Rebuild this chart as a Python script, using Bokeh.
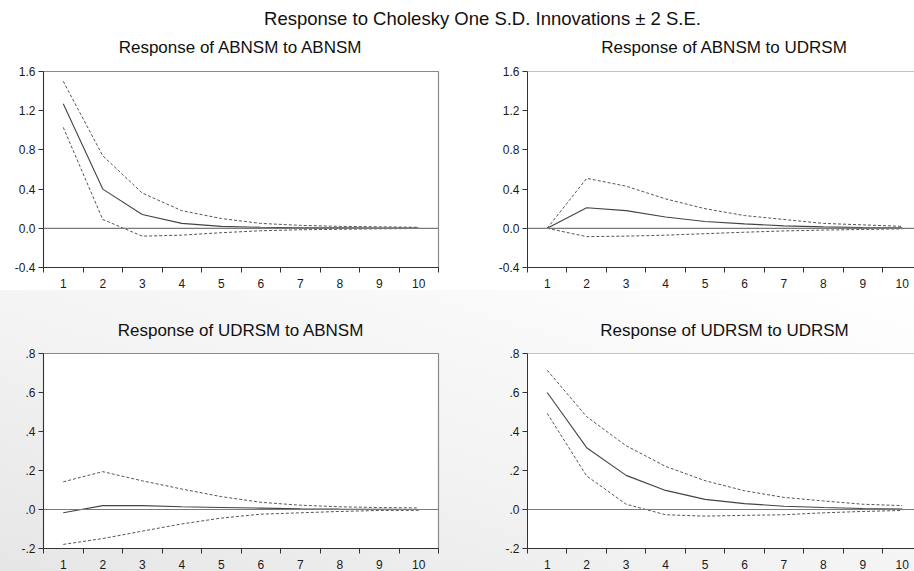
from bokeh.plotting import figure
from bokeh.layouts import column, row
from bokeh.models import Span, FixedTicker, Range1d, CustomJSTickFormatter
from bokeh.embed import file_html
from bokeh.resources import INLINE
from bokeh.core.properties import value

# ---------------- data ----------------
periods = [1, 2, 3, 4, 5, 6, 7, 8, 9, 10]

main_title = "Response to Cholesky One S.D. Innovations \u00b1 2 S.E."

titles = ["Response of ABNSM to ABNSM", "Response of ABNSM to UDRSM",
          "Response of UDRSM to ABNSM", "Response of UDRSM to UDRSM"]

# Response of ABNSM to ABNSM
abn_abn_resp = [1.27, 0.40, 0.14, 0.05, 0.02, 0.01, 0.006, 0.004, 0.003, 0.002]
abn_abn_upper = [1.50, 0.74, 0.36, 0.18, 0.10, 0.05, 0.03, 0.02, 0.015, 0.01]
abn_abn_lower = [1.03, 0.09, -0.08, -0.07, -0.045, -0.025, -0.015, -0.01, -0.005, -0.002]

# Response of ABNSM to UDRSM
abn_udr_resp = [0.0, 0.21, 0.18, 0.115, 0.07, 0.045, 0.025, 0.015, 0.008, 0.004]
abn_udr_upper = [0.0, 0.51, 0.43, 0.30, 0.20, 0.13, 0.09, 0.05, 0.035, 0.02]
abn_udr_lower = [0.0, -0.085, -0.08, -0.07, -0.055, -0.04, -0.027, -0.018, -0.012, -0.006]

# Response of UDRSM to ABNSM
udr_abn_resp = [-0.017, 0.02, 0.02, 0.014, 0.01, 0.007, 0.004, 0.002, 0.001, 0.0]
udr_abn_upper = [0.142, 0.194, 0.147, 0.105, 0.066, 0.037, 0.022, 0.014, 0.01, 0.008]
udr_abn_lower = [-0.179, -0.149, -0.111, -0.074, -0.044, -0.024, -0.017, -0.01, -0.005, -0.004]

# Response of UDRSM to UDRSM
udr_udr_resp = [0.60, 0.317, 0.175, 0.098, 0.052, 0.03, 0.017, 0.01, 0.005, 0.002]
udr_udr_upper = [0.714, 0.476, 0.327, 0.221, 0.148, 0.096, 0.062, 0.044, 0.027, 0.02]
udr_udr_lower = [0.493, 0.172, 0.027, -0.027, -0.034, -0.03, -0.027, -0.017, -0.01, -0.005]

top_yticks = [-0.4, 0.0, 0.4, 0.8, 1.2, 1.6]
bottom_yticks = [-0.2, 0.0, 0.2, 0.4, 0.6, 0.8]

FONT = "Liberation Sans"

fmt_top = CustomJSTickFormatter(code="return tick.toFixed(1);")
fmt_bottom = CustomJSTickFormatter(code="""
var s = tick.toFixed(1);
if (s.startsWith('-0.')) { s = '-' + s.substring(2); }
else if (s.startsWith('0.')) { s = s.substring(1); }
return s;
""")

LEFT_W, RIGHT_W = 484, 430
TOP_H, BOT_H = 230, 229
STRIP1_H, STRIP2_H = 60, 52


def make_panel(resp, upper, lower, yticks, fmt, width, height,
               border_bottom, border_right, x_end, right_panel, bg):
    p = figure(width=width, height=height, output_backend="svg", toolbar_location=None,
               x_range=Range1d(0.5, x_end), y_range=Range1d(yticks[0], yticks[-1]),
               min_border_left=43, min_border_right=border_right,
               min_border_top=11, min_border_bottom=border_bottom)
    p.background_fill_color = "white"
    p.border_fill_color = bg
    p.xgrid.visible = False
    p.ygrid.visible = False
    if right_panel:
        p.outline_line_color = None
        p.add_layout(Span(location=yticks[-1], dimension="width",
                          line_color="#8a8a8a", line_width=1.2))
    else:
        p.outline_line_color = "#8a8a8a"
        p.outline_line_width = 1.2

    # x axis: labels at period centres, tick marks at boundaries
    p.xaxis.ticker = FixedTicker(ticks=periods,
                                 minor_ticks=[x - 0.5 for x in periods] + [periods[-1] + 0.5])
    p.xaxis.major_tick_out = 0
    p.xaxis.major_tick_in = 0
    p.xaxis.minor_tick_out = 5
    p.xaxis.minor_tick_in = 0
    p.xaxis.minor_tick_line_color = "#333333"
    p.xaxis.major_label_standoff = 6
    p.xaxis.axis_line_color = "#333333"

    p.yaxis.ticker = FixedTicker(ticks=yticks)
    p.yaxis.formatter = fmt
    p.yaxis.major_tick_out = 5
    p.yaxis.major_tick_in = 0
    p.yaxis.minor_tick_line_color = None
    p.yaxis.major_label_standoff = 3
    p.yaxis.axis_line_color = "#333333"
    p.yaxis.major_tick_line_color = "#333333"

    for ax in (p.xaxis, p.yaxis):
        ax.major_label_text_font = FONT
        ax.major_label_text_font_size = "12px"
        ax.major_label_text_color = "#1a1a1a"

    p.add_layout(Span(location=0, dimension="width", line_color="#7a7a7a", line_width=1.2))
    p.line(periods, upper, line_color="#555555", line_width=1, line_dash="3 2")
    p.line(periods, lower, line_color="#555555", line_width=1, line_dash="3 2")
    p.line(periods, resp, line_color="#444444", line_width=1.1)
    return p


def make_strip(height, top_y, bg):
    s = figure(width=LEFT_W + RIGHT_W, height=height, output_backend="svg",
               toolbar_location=None, x_range=Range1d(0, LEFT_W + RIGHT_W),
               y_range=Range1d(top_y + height, top_y), min_border=0,
               x_axis_location=None, y_axis_location=None)
    s.outline_line_color = None
    s.xgrid.visible = False
    s.ygrid.visible = False
    s.border_fill_color = bg
    s.background_fill_color = bg
    return s


# centres of panel frames (left frame 43..438, right frame 527..921)
sub_x = [240.5, 724]

strip1 = make_strip(STRIP1_H, 0, "white")
strip1.text(x=[482], y=[18], text=[main_title], text_align="center", text_baseline="middle",
            text_font=value(FONT), text_font_size="18.5px", text_color="#111111")
strip1.text(x=sub_x, y=[47, 47], text=titles[:2], text_align="center", text_baseline="middle",
            text_font=value(FONT), text_font_size="17px", text_color="#111111")

strip2 = make_strip(STRIP2_H, STRIP1_H + TOP_H, None)
strip2.text(x=sub_x, y=[330, 330], text=titles[2:], text_align="center", text_baseline="middle",
            text_font=value(FONT), text_font_size="17px", text_color="#111111")

right_end = 0.5 + 387 / 39.45

p1 = make_panel(abn_abn_resp, abn_abn_upper, abn_abn_lower, top_yticks, fmt_top,
                LEFT_W, TOP_H, 21, 46, 10.5, False, "white")
p2 = make_panel(abn_udr_resp, abn_udr_upper, abn_udr_lower, top_yticks, fmt_top,
                RIGHT_W, TOP_H, 21, 0, right_end, True, "white")
p3 = make_panel(udr_abn_resp, udr_abn_upper, udr_abn_lower, bottom_yticks, fmt_bottom,
                LEFT_W, BOT_H, 20, 46, 10.5, False, None)
p4 = make_panel(udr_udr_resp, udr_udr_upper, udr_udr_lower, bottom_yticks, fmt_bottom,
                RIGHT_W, BOT_H, 20, 0, right_end, True, None)

bottom_block = column(strip2, row(p3, p4), spacing=0,
                      styles={"background": "linear-gradient(to top right, #e6e6e6 0%, #f3f3f3 45%, #ffffff 100%)"})
layout = column(strip1, row(p1, p2), bottom_block, spacing=0,
                styles={"background": "white"})

open("out.html", "w").write(file_html(layout, INLINE))
